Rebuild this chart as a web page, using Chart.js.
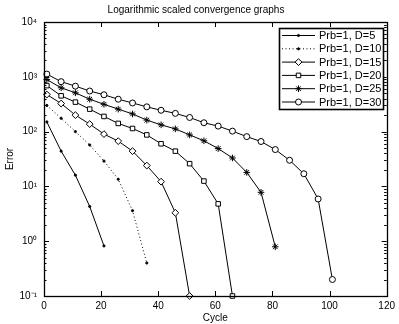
<!DOCTYPE html>
<html>
<head>
<meta charset="utf-8">
<script src="https://cdn.jsdelivr.net/npm/chart.js@4.4.1/dist/chart.umd.min.js"></script>
<style>
  body { margin: 0; background: #fff; }
</style>
</head>
<body>
<canvas id="conv" width="399" height="324"></canvas>
<script>
// cycles where the errors were sampled (every 5 cycles)
const cycles = [1, 6, 11, 16, 21, 26, 31, 36, 41, 46, 51, 56, 61, 66, 71, 76, 81, 86, 91, 96, 101];

const errD5 = [150, 44, 16, 4.3, 0.82];
const errD10 = [300, 175, 100, 57, 29, 13.5, 3.6, 0.4];
const errD15 = [475, 325, 200, 137, 90, 67, 44, 24, 12.2, 3.3, 0.1];
const errD20 = [690, 450, 345, 257, 189, 141, 114, 87, 60, 44, 26, 12.5, 4.8, 0.1];
const errD25 = [890, 630, 510, 390, 315, 257, 210, 162, 133, 112, 87, 68, 49, 33, 18, 7.8, 0.79];
const errD30 = [1120, 815, 675, 550, 470, 390, 333, 283, 245, 215, 181, 145, 126, 102, 81, 66, 47, 30, 17, 5.9, 0.2];

const seriesLabels = ['Prb=1, D=5', 'Prb=1, D=10', 'Prb=1, D=15', 'Prb=1, D=20', 'Prb=1, D=25', 'Prb=1, D=30'];

const yTickValues = [0.1, 1, 10, 100, 1000, 10000];
const yTickLabels = ['10\u207B\u00B9', '10\u2070', '10\u00B9', '10\u00B2', '10\u00B3', '10\u2074'];
const xTickValues = [0, 20, 40, 60, 80, 100, 120];

const FONT = '"Liberation Sans", Arial, Helvetica, sans-serif';

function toPoints(errs) {
  return errs.map((e, i) => ({x: cycles[i], y: e}));
}

// minor + major positions for the log axis
const yAllTicks = [];
for (let p = 0; p < yTickValues.length - 1; p++) {
  for (let m = 1; m < 10; m++) yAllTicks.push(+(yTickValues[p] * m).toPrecision(3));
}
yAllTicks.push(yTickValues[yTickValues.length - 1]);

function mkSet(label, errs, style, radius, dash, filled) {
  return {
    label: label,
    data: toPoints(errs),
    borderColor: '#000',
    borderWidth: 1,
    borderDash: dash,
    pointStyle: style,
    pointRadius: radius,
    pointBorderWidth: 1,
    pointBorderColor: '#000',
    pointBackgroundColor: filled ? '#000' : '#fff',
    backgroundColor: filled ? '#000' : '#fff',
    fill: false,
    tension: 0,
    clip: false
  };
}

const datasets = [
  mkSet(seriesLabels[0], errD5, 'circle', 1.1, [], true),
  mkSet(seriesLabels[1], errD10, 'circle', 1.1, [1, 2.5], true),
  mkSet(seriesLabels[2], errD15, 'rectRot', 3.4, [], false),
  mkSet(seriesLabels[3], errD20, 'rect', 3.2, [], false),
  mkSet(seriesLabels[4], errD25, 'star', 3.3, [], false),
  mkSet(seriesLabels[5], errD30, 'circle', 3.0, [], false)
];

// matlab style frame with inward ticks + boxed legend
const matlabBox = {
  id: 'matlabBox',
  afterDatasetsDraw(chart) {
    const ctx = chart.ctx;
    const a = chart.chartArea;
    const xs = chart.scales.x, ys = chart.scales.y;
    ctx.save();
    ctx.strokeStyle = '#000';
    ctx.lineWidth = 1;
    ctx.beginPath();
    ys.ticks.forEach(t => {
      const py = Math.round(ys.getPixelForValue(t.value)) + 0.5;
      const major = yTickValues.includes(t.value);
      const len = major ? 5 : 2.5;
      ctx.moveTo(a.left, py); ctx.lineTo(a.left + len, py);
      ctx.moveTo(a.right, py); ctx.lineTo(a.right - len, py);
    });
    xs.ticks.forEach(t => {
      const px = Math.round(xs.getPixelForValue(t.value)) + 0.5;
      ctx.moveTo(px, a.bottom); ctx.lineTo(px, a.bottom - 5);
      ctx.moveTo(px, a.top); ctx.lineTo(px, a.top + 5);
    });
    ctx.stroke();
    ctx.lineWidth = 1.3;
    ctx.strokeRect(Math.round(a.left) + 0.5, Math.round(a.top) + 0.5,
      Math.round(a.right - a.left), Math.round(a.bottom - a.top));

    // legend
    const lx = 279, ly = 28, lw = 104, lh = 81;
    ctx.fillStyle = '#fff';
    ctx.fillRect(lx, ly, lw, lh);
    ctx.lineWidth = 1.6;
    ctx.strokeRect(lx + 0.5, ly + 0.5, lw, lh);
    ctx.font = '11px ' + FONT;
    ctx.textBaseline = 'middle';
    ctx.textAlign = 'left';
    chart.data.datasets.forEach((ds, i) => {
      const y = ly + 7.5 + i * 13.3;
      ctx.lineWidth = 1;
      ctx.strokeStyle = '#000';
      ctx.setLineDash(ds.borderDash || []);
      ctx.beginPath();
      ctx.moveTo(lx + 3, y); ctx.lineTo(lx + 36, y);
      ctx.stroke();
      ctx.setLineDash([]);
      ctx.fillStyle = ds.pointBackgroundColor;
      Chart.helpers.drawPoint(ctx, {
        pointStyle: ds.pointStyle, radius: ds.pointRadius, rotation: 0, borderWidth: 1
      }, lx + 19.5, y);
      ctx.fillStyle = '#000';
      ctx.fillText(ds.label, lx + 40, y + 0.5);
    });
    ctx.restore();
  }
};

const ctx = document.getElementById('conv').getContext('2d');
const myChart = new Chart(ctx, {
  type: 'line',
  data: { datasets: datasets },
  plugins: [matlabBox],
  options: {
    responsive: false,
    devicePixelRatio: 1,
    animation: false,
    layout: { padding: { right: 7 } },
    plugins: {
      legend: { display: false },
      tooltip: { enabled: false },
      title: {
        display: true,
        text: 'Logarithmic scaled convergence graphs',
        color: '#000',
        font: { family: FONT, size: 10, weight: 'normal', lineHeight: 1.2 },
        padding: { top: 4, bottom: 6 }
      }
    },
    scales: {
      x: {
        type: 'linear',
        min: 0,
        max: 120,
        afterBuildTicks: s => { s.ticks = xTickValues.map(v => ({value: v})); },
        afterFit: s => { s.height = 28; },
        grid: { display: false, drawTicks: false },
        border: { display: false },
        ticks: {
          color: '#000',
          padding: 4,
          autoSkip: false,
          maxRotation: 0,
          font: { family: FONT, size: 10 },
          callback: v => String(v)
        },
        title: {
          display: true,
          text: 'Cycle',
          color: '#000',
          font: { family: FONT, size: 10, lineHeight: 1.2 },
          padding: { top: 0, bottom: 0 }
        }
      },
      y: {
        type: 'logarithmic',
        min: 0.1,
        max: 10000,
        afterBuildTicks: s => { s.ticks = yAllTicks.map(v => ({value: v})); },
        afterFit: s => { s.width = 44; },
        grid: { display: false, drawTicks: false },
        border: { display: false },
        ticks: {
          color: '#000',
          padding: 7,
          autoSkip: false,
          font: { family: FONT, size: 10 },
          callback: v => {
            const k = yTickValues.indexOf(v);
            return k >= 0 ? yTickLabels[k] : '';
          }
        },
        title: {
          display: true,
          text: 'Error',
          color: '#000',
          font: { family: FONT, size: 10, lineHeight: 1.2 },
          padding: { top: 4, bottom: 0 }
        }
      }
    }
  }
});
</script>
</body>
</html>
